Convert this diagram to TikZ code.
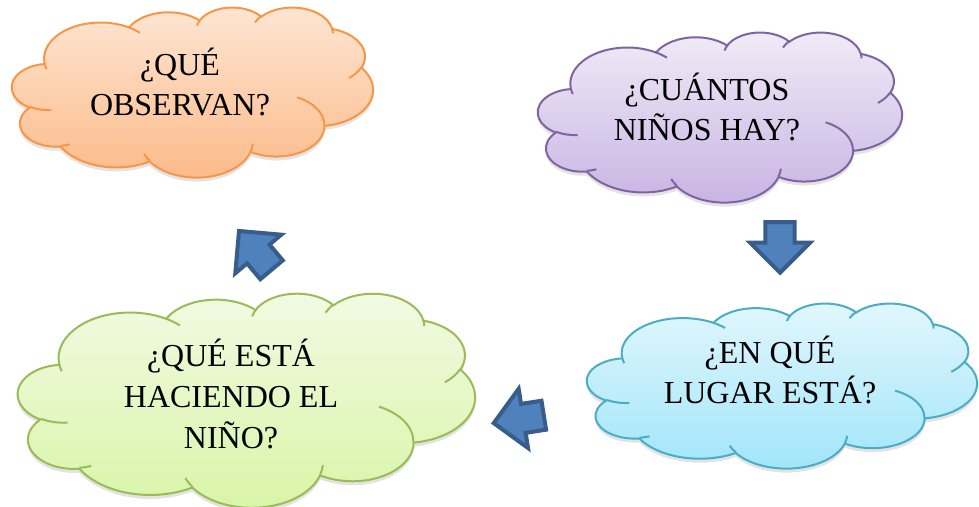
\documentclass[tikz,border=0pt]{standalone}
\usepackage{fontspec}
\setmainfont{Liberation Serif}
\usetikzlibrary{shapes.arrows,shadows}

\definecolor{orangeline}{HTML}{F79646}
\definecolor{orangetop}{HTML}{FDE6D4}
\definecolor{orangebot}{HTML}{FCBA88}
\definecolor{purpleline}{HTML}{8064A2}
\definecolor{purpletop}{HTML}{F1ECF7}
\definecolor{purplebot}{HTML}{C7B3E3}
\definecolor{greenline}{HTML}{9BBB59}
\definecolor{greentop}{HTML}{F2FAE4}
\definecolor{greenbot}{HTML}{D8F5A6}
\definecolor{blueline}{HTML}{4BACC6}
\definecolor{bluetop}{HTML}{E2F7FD}
\definecolor{bluebot}{HTML}{A0E5F9}
\definecolor{arrowfill}{HTML}{4F81BD}
\definecolor{arrowline}{HTML}{385D8A}

% one puff of the cloud: x radius, y radius, start and sweep (visual angles)
\newcommand{\puff}[4]{arc[x radius=#1, y radius=#2,
    start angle={atan2(#1*sin(#3),#2*cos(#3))},
    delta angle={mod(atan2(#1*sin(#3+#4),#2*cos(#3+#4))-atan2(#1*sin(#3),#2*cos(#3))+720,360)}]}

% cloud in a 432 x 432 box: left, top, width, height, line, top colour, bottom colour
\newcommand{\cloudat}[7]{%
    \pgfmathsetmacro{\cx}{#3*0.75/432}
    \pgfmathsetmacro{\cy}{#4*0.75/432}
    \begin{scope}[shift={(#1,#2)}, x=\cx pt, y=-\cy pt]
    \path[draw=#5, line width=1.5pt, top color=#6, bottom color=#7,
        drop shadow={opacity=0.22, shadow xshift=0pt, shadow yshift=-3pt}]
        (39,143.7)
        \puff{67.53}{91.90}{-190.4875}{123.7805}
        \puff{53.33}{72.67}{-144.1024}{89.9452}
        \puff{43.65}{59.45}{-145.8079}{99.7230}
        \puff{48.57}{65.95}{-130.9861}{117.2417}
        \puff{53.33}{72.73}{-78.7089}{109.0269}
        \puff{67.75}{92.20}{-46.2673}{130.2690}
        \puff{57.85}{78.67}{0.6250}{114.0333}
        \puff{67.52}{92.15}{22.4516}{115.1726}
        \puff{77.20}{105.43}{66.2426}{75.7110}
        \puff{43.60}{59.18}{-274.9421}{146.7356}
        \puff{43.45}{59.45}{-246.8285}{152.5189}
        -- cycle;
    \draw[#5, line width=1.5pt]
        (46.93,261.77) \puff{43.45}{59.45}{86.7420}{26.4295}
        (69.28,348.99) \puff{43.60}{59.18}{73.6105}{11.4475}
        (164.78,390.90) \puff{67.52}{92.15}{137.6242}{14.0811}
        (288.27,347.51) \puff{67.52}{92.15}{6.4533}{15.9984}
        (341.29,229.54) \puff{57.85}{78.67}{-70.2924}{70.9174}
        (417.98,153.54) \puff{53.33}{72.73}{30.3180}{27.7515}
        (383.24,54.26) \puff{48.57}{65.95}{-13.7443}{14.8589}
        (290.78,39.52) \puff{48.57}{65.95}{-149.1815}{18.1954}
        (221.41,47.20) \puff{43.65}{59.45}{-163.4943}{17.6864}
        (140.00,51.92) \puff{67.53}{91.90}{-66.7070}{12.3194}
        (41.27,157.89) \puff{67.53}{91.90}{157.6544}{11.8582};
    \end{scope}}

\begin{document}
\begin{tikzpicture}[x=0.75pt,y=-0.75pt,
    question/.style={align=center, inner sep=0pt,
        font=\fontsize{24}{30.5}\selectfont},
    bluearrow/.style={single arrow, draw=arrowline, fill=arrowfill,
        line width=3pt, minimum height=38pt, inner xsep=0pt, inner ysep=9.5pt,
        single arrow head extend=11.5pt}]
    \useasboundingbox (0,0) rectangle (979,507);

    % clouds
    \cloudat{12}{7}{361}{170}{orangeline}{orangetop}{orangebot}
    \cloudat{538}{32}{364}{170}{purpleline}{purpletop}{purplebot}
    \cloudat{587}{303}{390}{165}{blueline}{bluetop}{bluebot}
    \cloudat{18}{293}{457}{214}{greenline}{greentop}{greenbot}

    \node[question] (observan) at (180,82) {¿QUÉ\\OBSERVAN?};
    \node[question] (cuantos) at (707,107) {¿CUÁNTOS\\NIÑOS HAY?};
    \node[question] (lugar) at (770,370) {¿EN QUÉ\\LUGAR ESTÁ?};
    \node[question] (haciendo) at (231,394) {¿QUÉ ESTÁ\\HACIENDO EL\\NIÑO?};

    % block arrows
    \node[bluearrow, rotate=-90] (down) at (780,240) {};
    \node[bluearrow, rotate=189] (left) at (526,418) {};
    \node[bluearrow, rotate=130] (up) at (260,256) {};
\end{tikzpicture}
\end{document}
